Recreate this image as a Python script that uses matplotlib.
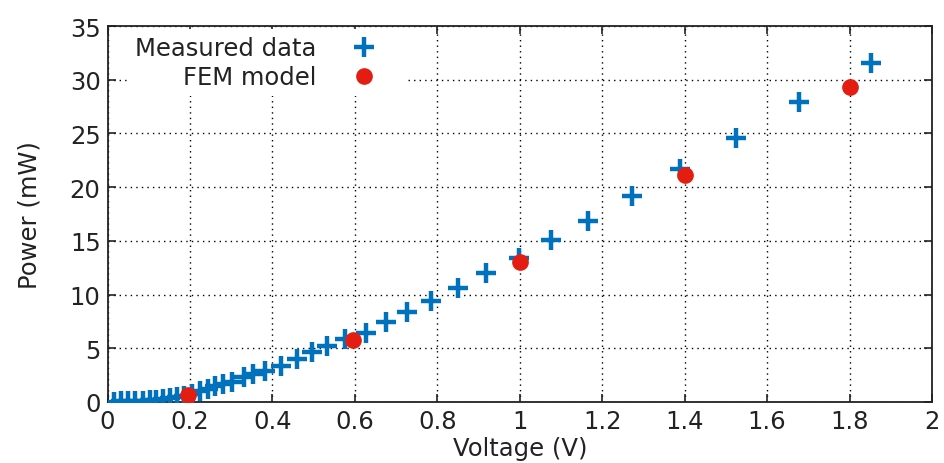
import matplotlib
matplotlib.use('Agg')
import matplotlib.pyplot as plt

# Measured data (voltage in V, power in mW)
meas_v = [0.015, 0.033, 0.05, 0.067, 0.085, 0.102, 0.118, 0.135, 0.151, 0.168,
          0.185, 0.204, 0.224, 0.243, 0.261, 0.281, 0.301, 0.33, 0.354, 0.382,
          0.422, 0.459, 0.495, 0.533, 0.577, 0.627, 0.675, 0.726, 0.785, 0.849,
          0.918, 0.997, 1.075, 1.166, 1.272, 1.389, 1.525, 1.678, 1.851]
meas_p = [0.0, 0.05, 0.08, 0.1, 0.13, 0.18, 0.23, 0.3, 0.37, 0.45,
          0.55, 0.7, 1.05, 1.25, 1.5, 1.65, 1.85, 2.3, 2.6, 2.85,
          3.38, 4.0, 4.65, 5.2, 5.87, 6.4, 7.45, 8.42, 9.43, 10.58,
          11.98, 13.45, 15.08, 16.88, 19.18, 21.7, 24.55, 27.88, 31.56]

# FEM model
fem_v = [0.196, 0.595, 1.0, 1.4, 1.8]
fem_p = [0.65, 5.8, 13.0, 21.15, 29.3]

x_ticks = [0, 0.2, 0.4, 0.6, 0.8, 1, 1.2, 1.4, 1.6, 1.8, 2]
x_labels = ['0', '0.2', '0.4', '0.6', '0.8', '1', '1.2', '1.4', '1.6', '1.8', '2']
y_ticks = [0, 5, 10, 15, 20, 25, 30, 35]

fs = 17.5
fig = plt.figure(figsize=(9.44, 4.64), dpi=100)
ax = fig.add_axes([0.1139, 0.1315, 0.8734, 0.8103])

ax.plot(meas_v, meas_p, linestyle='none', marker='+', markersize=15,
        markeredgewidth=3.2, color='#0072bd', label='Measured data', zorder=3)
ax.plot(fem_v, fem_p, linestyle='none', marker='o', markersize=11,
        color='#e41d12', label='FEM model', zorder=4)

ax.set_xlim(0, 2)
ax.set_ylim(0, 35)
ax.set_xticks(x_ticks)
ax.set_xticklabels(x_labels)
ax.set_yticks(y_ticks)
ax.tick_params(direction='in', top=True, right=True, length=6, width=1.2,
               labelsize=fs, colors='#222222', pad=5)
for s in ax.spines.values():
    s.set_linewidth(1.3)
    s.set_color('#222222')

# gnuplot-like dotted grid
ax.grid(True, color='black', linestyle=(0, (1, 3)), linewidth=1.0)
ax.set_axisbelow(True)

ax.set_xlabel('Voltage (V)', fontsize=fs, color='#222222', labelpad=2)
ax.set_ylabel('Power (mW)', fontsize=fs, color='#222222', labelpad=20)

# legend: right-aligned text, marker after the text, white box hides the grid
leg = ax.legend(loc='upper left', bbox_to_anchor=(0.025, 0.992), markerfirst=False,
                fontsize=fs, frameon=True, fancybox=False, framealpha=1,
                edgecolor='none', facecolor='white', borderpad=0.3,
                handletextpad=0.55, labelspacing=0.2, borderaxespad=0,
                handlelength=2.8)
for t in leg.get_texts():
    t.set_ha('right')
    t.set_color('#222222')
leg.set_zorder(5)

fig.savefig('out.png', dpi=100)
